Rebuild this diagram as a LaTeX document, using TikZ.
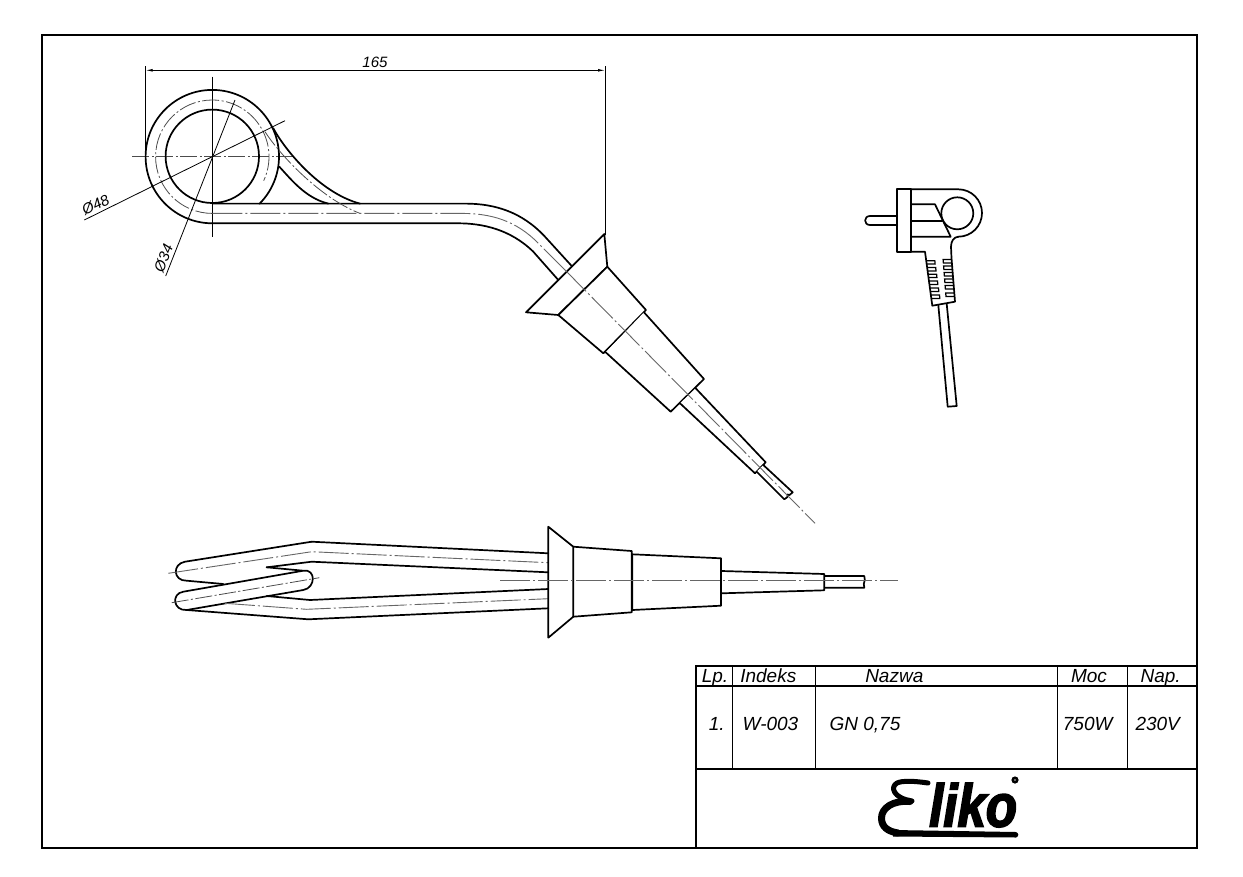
\documentclass[tikz,border=0pt]{standalone}
\usepackage{fontspec}
\setmainfont{Liberation Sans}
\newfontfamily\logofont[BoldItalicFeatures={FakeBold=3.2}]{Liberation Sans}
\usetikzlibrary{calc,arrows.meta}
\tikzset{
  part/.style={line width=1.7pt,line join=round,line cap=round,black},
  partfill/.style={part,fill=white},
  rib/.style={line width=1.25pt,black},
  axis/.style={line width=0.9pt,black!60,dash pattern=on 30pt off 3pt on 2pt off 3pt},
  axisfine/.style={line width=0.8pt,black!70,dash pattern=on 17pt off 2.5pt on 2pt off 2.5pt},
  thin line/.style={line width=0.8pt,black},
  frameline/.style={line width=1.5pt,black},
  cell/.style={font=\fontsize{19}{21}\selectfont\itshape,inner sep=0pt,anchor=base},
  dim/.style={font=\fontsize{15}{17}\selectfont\itshape,inner sep=0pt,anchor=base},
}
\begin{document}
\begin{tikzpicture}[x=1pt,y=-1pt]
\useasboundingbox (0,0) rectangle (1243,876);
\fill[white] (0,0) rectangle (1243,876);
% frame
\draw[frameline] (42,35) rectangle (1197,848);
% title table
\draw[frameline,line width=1.4pt] (696,848) -- (696,666) -- (1197,666);
\draw[frameline,line width=1.4pt] (696,686) -- (1197,686);
\draw[frameline,line width=1.4pt] (696,769) -- (1197,769);
\foreach \cx in {732.3,815.7,1057.7,1127.3}
  \draw[line width=1.3pt] (\cx,666) -- (\cx,769);
\node[cell] (h1) at (715,682.5) {Lp.};
\node[cell] (h2) at (768.3,682.5) {Indeks};
\node[cell] (h3) at (894.3,682.5) {Nazwa};
\node[cell] (h4) at (1089,682.5) {Moc};
\node[cell] (h5) at (1160.7,682.5) {Nap.};
\node[cell] (r1) at (716.7,730) {1.};
\node[cell] (r2) at (770.5,730) {W-003};
\node[cell] (r3) at (865,730) {GN 0,75};
\node[cell] (r4) at (1087.7,730) {750W};
\node[cell] (r5) at (1157.7,730) {230V};
% logo
\draw[line width=5pt,line cap=round,line join=round]
  (928,783) .. controls (915,781) and (902,780.5) .. (897,783) .. controls (890,787) and (893,798) .. (912,801);
\draw[line width=7pt,line cap=round,line join=round]
  (910,801.5) .. controls (893,800) and (881.5,808) .. (881.5,818) .. controls (881.5,827) and (888,831.5) .. (898,833);
\fill (893,830) -- (1016,832) .. controls (1019,833) and (1019,836.5) .. (1016,837.5) -- (893,836.5) -- cycle;
\node[inner sep=0pt,anchor=base west,xscale=0.85,font=\logofont\fontsize{60}{60}\selectfont\bfseries\itshape] (logo) at (929,826.5) {liko};
\fill (1015,780) circle (3.6pt);
\fill[black!45] (1015,780) circle (1.2pt);
% === top view: coil ===
\coordinate (c) at (212.3,156.3);
\draw[thin line] (145.7,66) -- (145.7,156);
\draw[thin line] (605,66) -- (605,235);
\draw[thin line,{Latex[length=7pt,width=2.8pt]}-{Latex[length=7pt,width=2.8pt]}] (145.7,70.3) -- (605,70.3);
\node[dim] (d165) at (375,67.5) {165};
\draw[thin line] (212.3,76.7) -- (212.3,236.7);
\draw[axisfine] (132.3,156.3) -- (293.3,156.3);
\draw[part] (212.3,223.3) arc (90:405:66.7);
\draw[part] (c) circle (46.7);
% tube edges
\draw[part] (212.3,223.3) -- (458,223.3) .. controls (482,223.3) and (510,229) .. (533.3,251.7) -- (558.3,280);
\draw[part] (212.3,203.6) -- (465,203.6) .. controls (495,203.6) and (522,212) .. (545,236.7) -- (571.7,266);
\draw[part] (273.3,128.3) .. controls (285,150) and (320,193) .. (360,203.6);
\draw[part] (279.3,166.7) .. controls (290,178) and (305,198) .. (328.3,203.6);
% centre lines of tube
\draw[axisfine] (212.3,213.4) arc (90:385:56.7);
\draw[axisfine] (265,131.7) .. controls (280,155) and (320,198) .. (360,213.4);
\draw[axis] (212.3,213.4) -- (462,213.4) .. controls (490,213.4) and (516,220) .. (539,244) -- (565,270);
% dimension leaders
\draw[thin line] (84.3,220) -- (285,120.7);
\draw[thin line] (165.7,276) -- (235,100);
\node[dim,anchor=center,rotate=26.5] (d48) at (95.5,205) {Ø48};
\node[dim,anchor=center,rotate=68.5] (d34) at (163.5,258) {Ø34};
% === top view: handle ===
\draw[partfill] (604.3,234) -- (607.3,266.7) -- (558.3,315) -- (526,312.3) -- cycle;
\draw[partfill] (607.3,266.7) -- (646,310) -- (603.3,353.3) -- (558.3,315) -- cycle;
\draw[partfill] (644,312.3) -- (704,379) -- (670.7,411.7) -- (605.7,352.3);
\draw[partfill] (695.7,388.3) -- (765.7,462.3) -- (755,473.3) -- (680,403.3);
\draw[partfill] (763.3,465) -- (792.7,492.3) -- (789.5,495) -- (787.5,494.5) -- (787.5,497) -- (784.3,499.3) -- (756.7,471.7);
\draw[axis] (565,270) -- (815,523.3);
% === side view ===
\draw[part] (311.7,541.7) -- (185,561.7) .. controls (172,564) and (173,581) .. (186.7,580.7) -- (223.3,584);
\draw[part] (311.7,541.7) -- (548.3,553.3);
\draw[part] (266.7,567.3) -- (311.7,561.7) -- (548.3,572.3);
\draw[part] (266.7,567.3) -- (303.3,570.7) .. controls (316,568.5) and (316,587.8) .. (303.3,590) -- (186.7,610)
   .. controls (173,611) and (171,593.5) .. (183.3,591.7) -- (303.3,570.7);
\draw[part] (266.7,596) -- (310,600) -- (548.3,589);
\draw[part] (186.7,610) -- (308.3,619.3) -- (548.3,608.3);
\draw[axis] (168.3,573.3) -- (311.7,551.7) -- (548.3,562.7);
\draw[axisfine] (171.7,602.7) -- (319.3,577.7);
\draw[axis] (225,603.3) -- (306.7,609.3) -- (548.3,598.7);
\draw[part] (548.3,526.7) -- (573.3,546.7) -- (573.3,616.7) -- (548.3,637.7) -- cycle;
\draw[part] (573.3,546.7) -- (631.7,551) -- (631.7,612.3) -- (573.3,616.7);
\draw[part] (632.3,554.3) -- (721,558.3) -- (721,605.7) -- (632.3,610) -- cycle;
\draw[part] (721.7,571) -- (824.3,574) -- (824.3,590.3) -- (721.7,593.3);
\draw[part] (825,576) -- (864.3,576) -- (864.8,580) -- (863.8,584) -- (864.3,587.7) -- (825,587.7);
\draw[axis] (500,580.7) -- (898.3,580.7);
% === plug ===
\draw[part] (897.3,216) -- (870,216) .. controls (863.5,216) and (863.5,225) .. (870,225) -- (897.3,225);
\draw[part] (897.3,189.3) rectangle (911,251.7);
\draw[part] (911,189.3) -- (958.3,189.3) arc (-90:90:23.7);
\draw[part] (958.3,236.7) .. controls (954,237) and (951,241) .. (951,246.7) -- (951.5,258) -- (955,301.7) -- (932.3,305.7) -- (925,251.7) -- (911,251.7);
\draw[part] (957.3,213.3) circle (16);
\draw[part] (911,204.3) -- (935,204.3) -- (950.7,236.7) -- (911,236.7);
\draw[part] (911,220.7) -- (942.3,220.7);
\foreach \ty/\tx in {260.7/926.3,267.5/927.2,274.2/928.1,281/929,288/930,295/931}
  \draw[rib] (\tx,\ty) -- ++(8.5,0) -- ++(0.3,3.4) -- ++(-8.5,0);
\foreach \ty/\tx in {259.5/951.6,266/952.1,272.5/952.6,279/953.1,285.5/953.6,293/954.2}
  \draw[rib] (\tx,\ty) -- ++(-8.5,0) -- ++(0.3,3.4) -- ++(8.5,0);
\draw[part] (938.3,305) -- (947.7,406.7) -- (956.7,406) -- (946.7,303.8);
\end{tikzpicture}
\end{document}
